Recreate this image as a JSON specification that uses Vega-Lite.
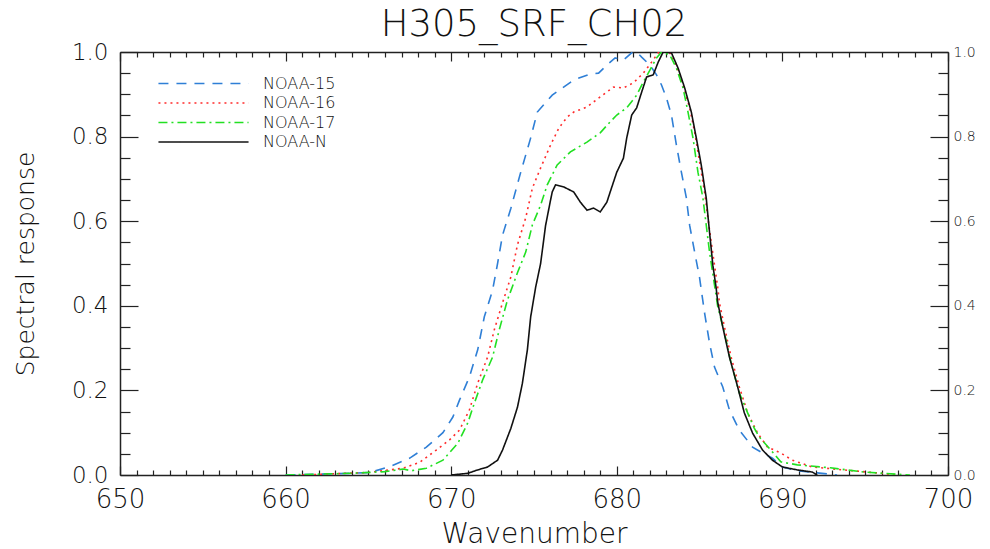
{
  "$schema": "https://vega.github.io/schema/vega-lite/v6.json",
  "width": 828,
  "height": 423,
  "autosize": {"type": "none"},
  "padding": {"left": 120, "top": 52, "right": 42, "bottom": 74},
  "background": "white",
  "title": {"text": "H305_SRF_CH02", "font": "DejaVu Sans", "fontWeight": 200, "fontSize": 37, "color": "#111", "anchor": "middle", "offset": -3},
  "config": {
    "view": {"stroke": null},
    "axis": {"grid": false, "domainColor": "#222", "domainWidth": 1.5, "tickColor": "#222", "tickWidth": 1.2, "labelColor": "#111", "titleColor": "#111", "labelFont": "DejaVu Sans", "titleFont": "DejaVu Sans", "titleFontWeight": 200, "labelFontWeight": 200}
  },
  "data": {"values": [
    {"s":"NOAA-15","w":660.0,"r":0.0},{"s":"NOAA-15","w":662.0,"r":0.002},{"s":"NOAA-15","w":664.0,"r":0.004},{"s":"NOAA-15","w":665.1,"r":0.006},{"s":"NOAA-15","w":666.3,"r":0.02},{"s":"NOAA-15","w":667.5,"r":0.04},{"s":"NOAA-15","w":668.5,"r":0.066},{"s":"NOAA-15","w":669.5,"r":0.10},{"s":"NOAA-15","w":670.1,"r":0.137},{"s":"NOAA-15","w":670.5,"r":0.177},{"s":"NOAA-15","w":671.1,"r":0.232},{"s":"NOAA-15","w":671.6,"r":0.296},{"s":"NOAA-15","w":672.0,"r":0.374},{"s":"NOAA-15","w":672.5,"r":0.437},{"s":"NOAA-15","w":672.8,"r":0.50},{"s":"NOAA-15","w":673.1,"r":0.567},{"s":"NOAA-15","w":673.6,"r":0.63},{"s":"NOAA-15","w":674.2,"r":0.716},{"s":"NOAA-15","w":674.8,"r":0.797},{"s":"NOAA-15","w":675.2,"r":0.858},{"s":"NOAA-15","w":676.1,"r":0.898},{"s":"NOAA-15","w":677.4,"r":0.934},{"s":"NOAA-15","w":678.4,"r":0.948},{"s":"NOAA-15","w":678.9,"r":0.95},{"s":"NOAA-15","w":679.4,"r":0.969},{"s":"NOAA-15","w":679.9,"r":0.986},{"s":"NOAA-15","w":680.4,"r":0.981},{"s":"NOAA-15","w":680.9,"r":0.998},{"s":"NOAA-15","w":681.2,"r":1.0},{"s":"NOAA-15","w":681.5,"r":0.988},{"s":"NOAA-15","w":682.0,"r":0.969},{"s":"NOAA-15","w":682.4,"r":0.946},{"s":"NOAA-15","w":682.7,"r":0.922},{"s":"NOAA-15","w":683.0,"r":0.891},{"s":"NOAA-15","w":683.3,"r":0.851},{"s":"NOAA-15","w":683.6,"r":0.78},{"s":"NOAA-15","w":683.9,"r":0.716},{"s":"NOAA-15","w":684.2,"r":0.655},{"s":"NOAA-15","w":684.4,"r":0.59},{"s":"NOAA-15","w":684.7,"r":0.527},{"s":"NOAA-15","w":685.0,"r":0.466},{"s":"NOAA-15","w":685.3,"r":0.383},{"s":"NOAA-15","w":685.6,"r":0.312},{"s":"NOAA-15","w":685.9,"r":0.255},{"s":"NOAA-15","w":686.4,"r":0.208},{"s":"NOAA-15","w":686.8,"r":0.154},{"s":"NOAA-15","w":687.4,"r":0.106},{"s":"NOAA-15","w":688.2,"r":0.066},{"s":"NOAA-15","w":688.8,"r":0.052},{"s":"NOAA-15","w":689.4,"r":0.04},{"s":"NOAA-15","w":690.0,"r":0.019},{"s":"NOAA-15","w":690.9,"r":0.01},{"s":"NOAA-15","w":692.1,"r":0.005},{"s":"NOAA-15","w":693.3,"r":0.0},
    {"s":"NOAA-16","w":661.0,"r":0.0},{"s":"NOAA-16","w":663.0,"r":0.003},{"s":"NOAA-16","w":665.0,"r":0.006},{"s":"NOAA-16","w":667.1,"r":0.016},{"s":"NOAA-16","w":668.1,"r":0.03},{"s":"NOAA-16","w":669.1,"r":0.059},{"s":"NOAA-16","w":669.9,"r":0.083},{"s":"NOAA-16","w":670.5,"r":0.106},{"s":"NOAA-16","w":671.1,"r":0.154},{"s":"NOAA-16","w":671.6,"r":0.217},{"s":"NOAA-16","w":672.2,"r":0.279},{"s":"NOAA-16","w":672.6,"r":0.343},{"s":"NOAA-16","w":673.1,"r":0.407},{"s":"NOAA-16","w":673.6,"r":0.468},{"s":"NOAA-16","w":674.0,"r":0.544},{"s":"NOAA-16","w":674.5,"r":0.608},{"s":"NOAA-16","w":674.9,"r":0.678},{"s":"NOAA-16","w":675.4,"r":0.726},{"s":"NOAA-16","w":676.0,"r":0.78},{"s":"NOAA-16","w":676.5,"r":0.82},{"s":"NOAA-16","w":677.0,"r":0.846},{"s":"NOAA-16","w":677.4,"r":0.858},{"s":"NOAA-16","w":678.2,"r":0.87},{"s":"NOAA-16","w":679.0,"r":0.894},{"s":"NOAA-16","w":679.8,"r":0.917},{"s":"NOAA-16","w":680.4,"r":0.915},{"s":"NOAA-16","w":681.0,"r":0.927},{"s":"NOAA-16","w":681.6,"r":0.95},{"s":"NOAA-16","w":682.1,"r":0.976},{"s":"NOAA-16","w":682.5,"r":0.998},{"s":"NOAA-16","w":682.8,"r":1.0},{"s":"NOAA-16","w":683.2,"r":0.998},{"s":"NOAA-16","w":683.6,"r":0.969},{"s":"NOAA-16","w":684.0,"r":0.922},{"s":"NOAA-16","w":684.4,"r":0.868},{"s":"NOAA-16","w":684.7,"r":0.811},{"s":"NOAA-16","w":685.0,"r":0.74},{"s":"NOAA-16","w":685.3,"r":0.669},{"s":"NOAA-16","w":685.5,"r":0.608},{"s":"NOAA-16","w":685.7,"r":0.551},{"s":"NOAA-16","w":685.9,"r":0.496},{"s":"NOAA-16","w":686.1,"r":0.442},{"s":"NOAA-16","w":686.2,"r":0.407},{"s":"NOAA-16","w":686.5,"r":0.35},{"s":"NOAA-16","w":686.9,"r":0.279},{"s":"NOAA-16","w":687.4,"r":0.208},{"s":"NOAA-16","w":687.9,"r":0.147},{"s":"NOAA-16","w":688.5,"r":0.099},{"s":"NOAA-16","w":689.1,"r":0.066},{"s":"NOAA-16","w":689.9,"r":0.052},{"s":"NOAA-16","w":690.6,"r":0.035},{"s":"NOAA-16","w":691.8,"r":0.019},{"s":"NOAA-16","w":693.7,"r":0.012},{"s":"NOAA-16","w":695.7,"r":0.005},{"s":"NOAA-16","w":696.9,"r":0.0},
    {"s":"NOAA-17","w":660.0,"r":0.0},{"s":"NOAA-17","w":662.0,"r":0.002},{"s":"NOAA-17","w":664.0,"r":0.004},{"s":"NOAA-17","w":666.0,"r":0.008},{"s":"NOAA-17","w":667.1,"r":0.014},{"s":"NOAA-17","w":667.6,"r":0.01},{"s":"NOAA-17","w":668.5,"r":0.016},{"s":"NOAA-17","w":669.5,"r":0.035},{"s":"NOAA-17","w":670.4,"r":0.075},{"s":"NOAA-17","w":671.0,"r":0.123},{"s":"NOAA-17","w":671.4,"r":0.17},{"s":"NOAA-17","w":671.9,"r":0.225},{"s":"NOAA-17","w":672.5,"r":0.279},{"s":"NOAA-17","w":672.9,"r":0.343},{"s":"NOAA-17","w":673.4,"r":0.414},{"s":"NOAA-17","w":674.0,"r":0.478},{"s":"NOAA-17","w":674.5,"r":0.527},{"s":"NOAA-17","w":674.9,"r":0.591},{"s":"NOAA-17","w":675.4,"r":0.638},{"s":"NOAA-17","w":675.8,"r":0.686},{"s":"NOAA-17","w":676.4,"r":0.733},{"s":"NOAA-17","w":677.2,"r":0.764},{"s":"NOAA-17","w":678.2,"r":0.787},{"s":"NOAA-17","w":679.0,"r":0.809},{"s":"NOAA-17","w":679.6,"r":0.835},{"s":"NOAA-17","w":680.0,"r":0.851},{"s":"NOAA-17","w":680.6,"r":0.868},{"s":"NOAA-17","w":681.2,"r":0.898},{"s":"NOAA-17","w":681.6,"r":0.929},{"s":"NOAA-17","w":682.0,"r":0.957},{"s":"NOAA-17","w":682.4,"r":0.986},{"s":"NOAA-17","w":682.7,"r":1.0},{"s":"NOAA-17","w":683.2,"r":0.993},{"s":"NOAA-17","w":683.6,"r":0.962},{"s":"NOAA-17","w":684.0,"r":0.915},{"s":"NOAA-17","w":684.3,"r":0.858},{"s":"NOAA-17","w":684.6,"r":0.797},{"s":"NOAA-17","w":684.9,"r":0.716},{"s":"NOAA-17","w":685.2,"r":0.655},{"s":"NOAA-17","w":685.4,"r":0.591},{"s":"NOAA-17","w":685.6,"r":0.527},{"s":"NOAA-17","w":685.9,"r":0.449},{"s":"NOAA-17","w":686.1,"r":0.397},{"s":"NOAA-17","w":686.5,"r":0.336},{"s":"NOAA-17","w":686.9,"r":0.265},{"s":"NOAA-17","w":687.4,"r":0.194},{"s":"NOAA-17","w":687.9,"r":0.147},{"s":"NOAA-17","w":688.3,"r":0.111},{"s":"NOAA-17","w":688.6,"r":0.09},{"s":"NOAA-17","w":689.3,"r":0.059},{"s":"NOAA-17","w":689.9,"r":0.031},{"s":"NOAA-17","w":690.9,"r":0.024},{"s":"NOAA-17","w":692.9,"r":0.017},{"s":"NOAA-17","w":694.9,"r":0.007},{"s":"NOAA-17","w":697.7,"r":0.0},
    {"s":"NOAA-N","w":670.0,"r":0.0},{"s":"NOAA-N","w":671.0,"r":0.004},{"s":"NOAA-N","w":671.6,"r":0.012},{"s":"NOAA-N","w":672.2,"r":0.019},{"s":"NOAA-N","w":672.8,"r":0.035},{"s":"NOAA-N","w":673.1,"r":0.059},{"s":"NOAA-N","w":673.6,"r":0.11},{"s":"NOAA-N","w":674.0,"r":0.16},{"s":"NOAA-N","w":674.3,"r":0.217},{"s":"NOAA-N","w":674.6,"r":0.296},{"s":"NOAA-N","w":674.8,"r":0.374},{"s":"NOAA-N","w":675.1,"r":0.444},{"s":"NOAA-N","w":675.4,"r":0.5},{"s":"NOAA-N","w":675.7,"r":0.59},{"s":"NOAA-N","w":676.0,"r":0.65},{"s":"NOAA-N","w":676.1,"r":0.669},{"s":"NOAA-N","w":676.3,"r":0.686},{"s":"NOAA-N","w":676.8,"r":0.681},{"s":"NOAA-N","w":677.4,"r":0.669},{"s":"NOAA-N","w":677.8,"r":0.645},{"s":"NOAA-N","w":678.2,"r":0.626},{"s":"NOAA-N","w":678.6,"r":0.631},{"s":"NOAA-N","w":679.0,"r":0.622},{"s":"NOAA-N","w":679.4,"r":0.645},{"s":"NOAA-N","w":679.6,"r":0.669},{"s":"NOAA-N","w":680.0,"r":0.716},{"s":"NOAA-N","w":680.4,"r":0.749},{"s":"NOAA-N","w":680.6,"r":0.797},{"s":"NOAA-N","w":680.9,"r":0.851},{"s":"NOAA-N","w":681.2,"r":0.868},{"s":"NOAA-N","w":681.5,"r":0.905},{"s":"NOAA-N","w":681.8,"r":0.941},{"s":"NOAA-N","w":682.2,"r":0.946},{"s":"NOAA-N","w":682.5,"r":0.976},{"s":"NOAA-N","w":682.8,"r":1.0},{"s":"NOAA-N","w":683.3,"r":0.998},{"s":"NOAA-N","w":683.7,"r":0.962},{"s":"NOAA-N","w":684.1,"r":0.915},{"s":"NOAA-N","w":684.5,"r":0.858},{"s":"NOAA-N","w":684.8,"r":0.797},{"s":"NOAA-N","w":685.1,"r":0.733},{"s":"NOAA-N","w":685.4,"r":0.655},{"s":"NOAA-N","w":685.6,"r":0.574},{"s":"NOAA-N","w":685.8,"r":0.496},{"s":"NOAA-N","w":686.0,"r":0.442},{"s":"NOAA-N","w":686.1,"r":0.407},{"s":"NOAA-N","w":686.4,"r":0.35},{"s":"NOAA-N","w":686.8,"r":0.279},{"s":"NOAA-N","w":687.3,"r":0.208},{"s":"NOAA-N","w":687.7,"r":0.147},{"s":"NOAA-N","w":688.2,"r":0.099},{"s":"NOAA-N","w":688.8,"r":0.059},{"s":"NOAA-N","w":689.4,"r":0.035},{"s":"NOAA-N","w":690.0,"r":0.019},{"s":"NOAA-N","w":690.9,"r":0.012},{"s":"NOAA-N","w":691.8,"r":0.007},{"s":"NOAA-N","w":692.1,"r":0.0}
  ]},
  "resolve": {"axis": {"x": "independent", "y": "independent"}},
  "layer": [
    {
      "mark": {"type": "line", "strokeWidth": 1.6, "clip": true},
      "encoding": {
        "x": {"field": "w", "type": "quantitative", "scale": {"domain": [650, 700], "nice": false, "zero": false},
              "axis": {"orient": "bottom", "values": [650, 660, 670, 680, 690, 700], "tickSize": -9, "labelFontSize": 26, "labelPadding": 20, "labelFlush": false, "title": "Wavenumber", "titleFontSize": 28, "titlePadding": 8}},
        "y": {"field": "r", "type": "quantitative", "scale": {"domain": [0, 1], "nice": false},
              "axis": {"orient": "left", "values": [0, 0.2, 0.4, 0.6, 0.8, 1.0], "format": ".1f", "tickSize": -18, "labelFontSize": 23, "labelPadding": 30, "labelFlush": false, "title": "Spectral response", "titleFontSize": 25, "titlePadding": 33}},
        "color": {"field": "s", "type": "nominal",
                  "scale": {"domain": ["NOAA-15", "NOAA-16", "NOAA-17", "NOAA-N"], "range": ["#2f7fd6", "#ff2b2b", "#22e022", "#111111"]},
                  "legend": {"orient": "none", "legendX": 74, "legendY": 22, "title": null, "padding": 0, "symbolType": "M-5.3,0H5.3", "symbolSize": 289, "symbolStrokeWidth": 1.6, "labelFontSize": 16, "labelFont": "DejaVu Sans", "labelFontWeight": 200, "labelColor": "#111", "labelOffset": 50, "rowPadding": 1.5}},
        "strokeDash": {"field": "s", "type": "nominal",
                       "scale": {"domain": ["NOAA-15", "NOAA-16", "NOAA-17", "NOAA-N"], "range": [[10, 8], [2, 4], [9, 4, 2, 4], [1, 0]]}},
        "detail": {"field": "s"}
      }
    },
    {
      "mark": {"type": "point", "opacity": 0},
      "encoding": {
        "x": {"field": "w", "type": "quantitative", "axis": {"orient": "top", "values": [650, 660, 670, 680, 690, 700], "tickSize": -9, "labels": false, "title": null}},
        "y": {"field": "r", "type": "quantitative", "axis": {"orient": "right", "values": [0, 0.2, 0.4, 0.6, 0.8, 1.0], "format": ".1f", "tickSize": -18, "labelFontSize": 14, "labelPadding": 23, "labelFlush": false, "title": null}}
      }
    },
    {
      "mark": {"type": "point", "opacity": 0},
      "encoding": {
        "x": {"field": "w", "type": "quantitative", "axis": {"orient": "bottom", "values": [651,652,653,654,655,656,657,658,659,661,662,663,664,665,666,667,668,669,671,672,673,674,675,676,677,678,679,681,682,683,684,685,686,687,688,689,691,692,693,694,695,696,697,698,699], "tickSize": -5, "labels": false, "domain": false, "title": null}},
        "y": {"field": "r", "type": "quantitative", "axis": {"orient": "left", "values": [0.05,0.1,0.15,0.25,0.3,0.35,0.45,0.5,0.55,0.65,0.7,0.75,0.85,0.9,0.95], "tickSize": -10, "labels": false, "domain": false, "title": null}}
      }
    },
    {
      "mark": {"type": "point", "opacity": 0},
      "encoding": {
        "x": {"field": "w", "type": "quantitative", "axis": {"orient": "top", "values": [651,652,653,654,655,656,657,658,659,661,662,663,664,665,666,667,668,669,671,672,673,674,675,676,677,678,679,681,682,683,684,685,686,687,688,689,691,692,693,694,695,696,697,698,699], "tickSize": -5, "labels": false, "domain": false, "title": null}},
        "y": {"field": "r", "type": "quantitative", "axis": {"orient": "right", "values": [0.05,0.1,0.15,0.25,0.3,0.35,0.45,0.5,0.55,0.65,0.7,0.75,0.85,0.9,0.95], "tickSize": -10, "labels": false, "domain": false, "title": null}}
      }
    }
  ]
}
